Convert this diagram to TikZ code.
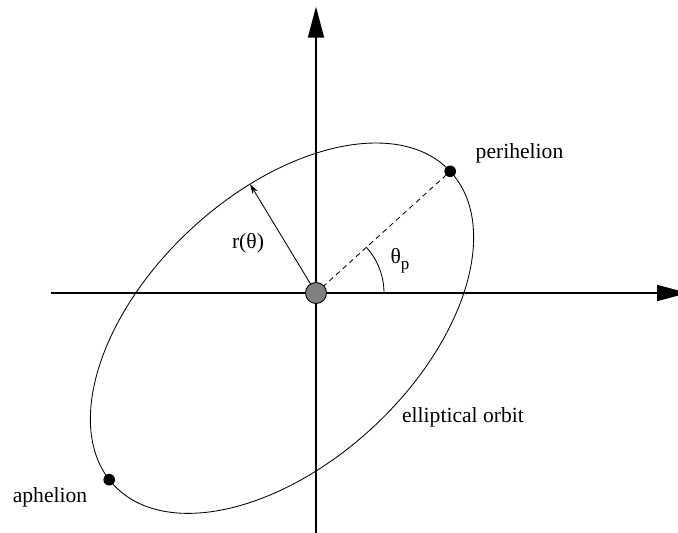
\documentclass[tikz,border=0pt]{standalone}
\usepackage{fontspec}
\setmainfont{Liberation Serif}
\usetikzlibrary{arrows.meta,calc}
\begin{document}
\begin{tikzpicture}[x=1pt,y=1pt,
  axis/.style={line width=1.8pt,-{Triangle[length=31pt,width=16pt]}},
  orbit/.style={line width=0.85pt},
  radius vec/.style={line width=0.85pt,-{Stealth[length=10pt,width=6pt]}},
  dashline/.style={line width=0.85pt,dash pattern=on 5pt off 4pt},
  dot/.style={circle,fill=black,inner sep=0pt,minimum size=11.6pt},
  sunstyle/.style={circle,draw=black,line width=0.9pt,fill=gray,inner sep=0pt,minimum size=21pt},
  lbl/.style={font=\fontsize{21.6}{24}\selectfont,inner sep=0pt}]
\useasboundingbox (0,0) rectangle (678,533);
% axes
\coordinate (xl) at (51,240);
\coordinate (xr) at (688,240);
\coordinate (yb) at (316,0);
\coordinate (yt) at (316,526.3);
\draw[axis] (xl) -- (xr);
\draw[axis] (yb) -- (yt);
% orbit
\coordinate (C) at (282,204.8);
\draw[orbit,rotate around={43:(C)}] (C) ellipse [x radius=230, y radius=134.5];
\begin{scope}[shift={(C)},rotate=43]
  \coordinate (periP) at (230,0);
  \coordinate (aphP) at ({230*cos(177)},{134.5*sin(177)});
  \coordinate (tip) at ({230*cos(71)},{134.5*sin(71)});
\end{scope}
\coordinate (suncenter) at (316,240);
% radius vector and dashed line
\draw[radius vec] (suncenter) -- (tip);
\draw[dashline] (suncenter) -- (periP);
% angle arc
\draw[line width=0.85pt] let \p1=($(periP)-(suncenter)$), \n1={atan2(\y1,\x1)} in
  ($(suncenter)+(68,0)$) arc[start angle=0,end angle=\n1,radius=68];
% sun and points
\node[sunstyle] (sun) at (suncenter) {};
\node[dot] (peri) at (periP) {};
\node[dot] (aph) at (aphP) {};
% labels
\node[lbl] (lperi) at (519.5,380) {perihelion};
\node[lbl] (laph) at (50,36) {aphelion};
\node[lbl] (lorbit) at (463,116) {elliptical orbit};
\node[lbl] (lr) at (248,290) {r(θ)};
\node[lbl] (lth) at (400,272) {θ\raisebox{-0.3em}{\fontsize{17}{17}\selectfont p}};
\end{tikzpicture}
\end{document}
